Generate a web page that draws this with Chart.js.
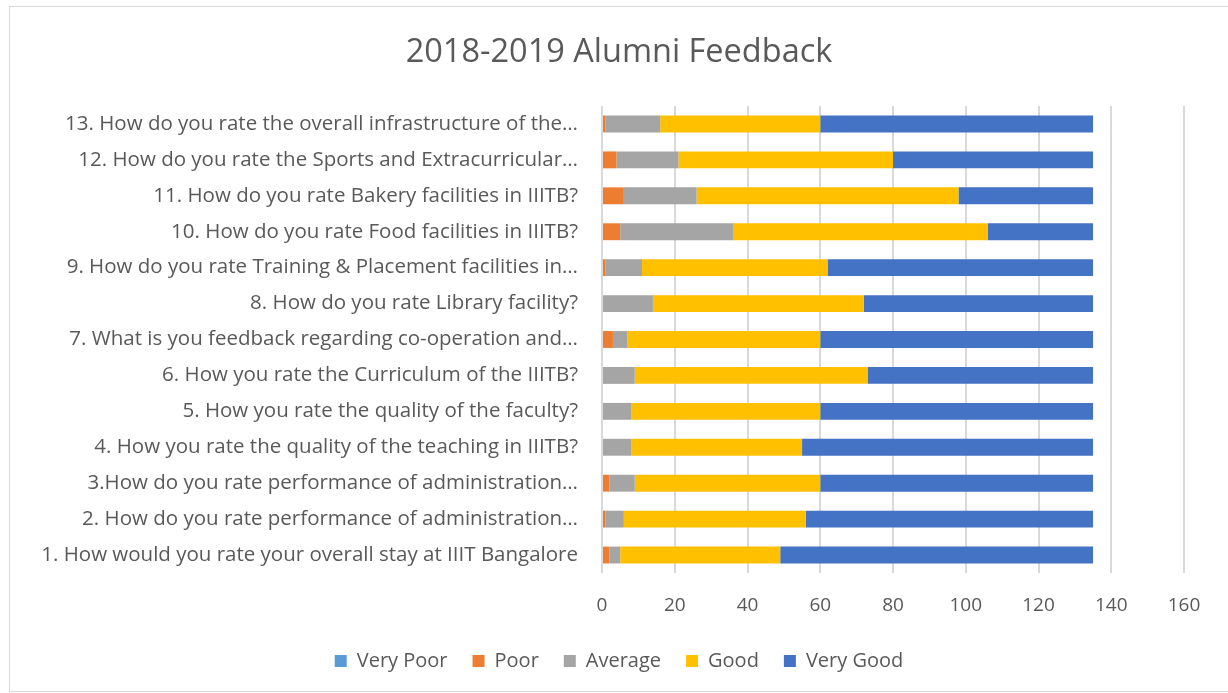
<!DOCTYPE html>
<html>
<head>
<meta charset="utf-8">
<script src="https://cdn.jsdelivr.net/npm/chart.js@4"></script>
<style>
  html, body { margin: 0; padding: 0; background: #fff; }
  #wrap { position: relative; width: 1228px; height: 693px; }
  #frame { position: absolute; left: 9px; top: 6px; width: 1230px; height: 686px; border: 1px solid #d9d9d9; box-sizing: border-box; pointer-events: none; }
  canvas { position: absolute; left: 0; top: 0; }
</style>
</head>
<body>
<div id="wrap">
  <canvas id="c" width="1228" height="693"></canvas>
  <div id="frame"></div>
</div>
<script>
const titleText = "2018-2019 Alumni Feedback";
const categories = [
  "13. How do you rate the overall infrastructure of the…",
  "12. How do you rate the Sports and Extracurricular…",
  "11. How do you rate Bakery facilities in IIITB?",
  "10. How do you rate Food facilities in IIITB?",
  "9. How do you rate Training & Placement facilities in…",
  "8. How do you rate Library facility?",
  "7. What is you feedback regarding co-operation and…",
  "6. How you rate the Curriculum of the IIITB?",
  "5. How you rate the quality of the faculty?",
  "4. How you rate the quality of the teaching in IIITB?",
  "3.How do you rate performance of administration…",
  "2. How do you rate performance of administration…",
  "1. How would you rate your overall stay at IIIT Bangalore"
];
const seriesNames = ["Very Poor", "Poor", "Average", "Good", "Very Good"];
const veryPoor = [0, 0, 0, 0, 0, 0, 0, 0, 0, 0, 0, 0, 0];
const poor     = [1, 4, 6, 5, 1, 0, 3, 0, 0, 0, 2, 1, 2];
const average  = [15, 17, 20, 31, 10, 14, 4, 9, 8, 8, 7, 5, 3];
const good     = [44, 59, 72, 70, 51, 58, 53, 64, 52, 47, 51, 50, 44];
const veryGood = [75, 55, 37, 29, 73, 63, 75, 62, 75, 80, 75, 79, 86];
const xTicks = [0, 20, 40, 60, 80, 100, 120, 140, 160];
const colors = ["#5B9BD5", "#ED7D31", "#A5A5A5", "#FFC000", "#4472C4"];

const seriesData = [veryPoor, poor, average, good, veryGood];
const FONT = "'Open Sans', 'Noto Sans', sans-serif";
const TEXT = "#595959";

new Chart(document.getElementById("c"), {
  type: "bar",
  data: {
    labels: categories,
    datasets: seriesNames.map((n, i) => ({
      label: n,
      data: seriesData[i],
      backgroundColor: colors[i],
      borderWidth: 0,
      categoryPercentage: 0.94,
      barPercentage: 0.5
    }))
  },
  options: {
    indexAxis: "y",
    responsive: false,
    animation: false,
    devicePixelRatio: 1,
    layout: { padding: { top: 10, right: 0, bottom: 12, left: 10 } },
    plugins: {
      title: {
        display: true,
        text: titleText,
        color: TEXT,
        font: { family: FONT, size: 32.5, weight: "normal" },
        padding: { top: 23.5, bottom: 33.5 }
      },
      legend: {
        position: "bottom",
        labels: {
          color: TEXT,
          font: { family: FONT, size: 20 },
          boxWidth: 12,
          boxHeight: 12,
          padding: 25
        }
      },
      tooltip: { enabled: false }
    },
    scales: {
      x: {
        stacked: true,
        min: 0,
        max: 160,
        afterBuildTicks: (s) => { s.ticks = xTicks.map(v => ({ value: v })); },
        afterFit: (s) => { s.height = 53; },
        grid: { color: "#d9d9d9", lineWidth: 2, drawTicks: false },
        border: { display: false },
        ticks: { color: TEXT, font: { family: FONT, size: 19 }, padding: 21 }
      },
      y: {
        stacked: true,
        afterFit: (s) => { s.width = 592; },
        grid: { display: false, drawTicks: false },
        border: { display: false },
        ticks: { color: TEXT, font: { family: FONT, size: 20.5 }, padding: 24, autoSkip: false }
      },
      yRight: {
        type: "category",
        position: "right",
        display: true,
        afterFit: (s) => { s.width = 44; },
        grid: { display: false, drawTicks: false },
        border: { display: false },
        ticks: { display: false }
      }
    }
  }
});
</script>
</body>
</html>
